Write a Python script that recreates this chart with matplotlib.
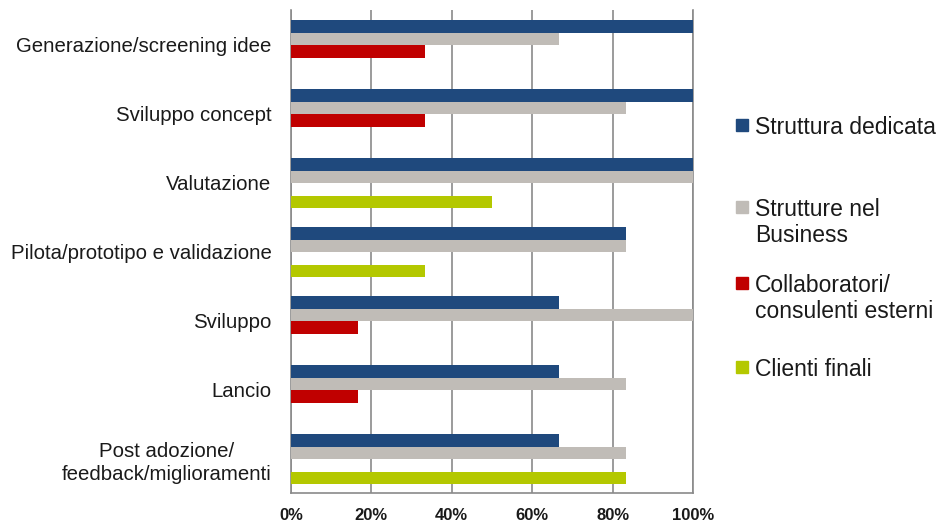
import numpy as np
import matplotlib
matplotlib.use("Agg")
from matplotlib import pyplot as plt
from matplotlib.patches import Rectangle

plt.rcParams['font.family'] = ['Liberation Sans', 'DejaVu Sans']

phases = [
    "Generazione/screening idee",
    "Sviluppo concept",
    "Valutazione",
    "Pilota/prototipo e validazione",
    "Sviluppo",
    "Lancio",
    "Post adozione/\nfeedback/miglioramenti",
]
series_names = [
    "Struttura dedicata",
    "Strutture nel\nBusiness",
    "Collaboratori/\nconsulenti esterni",
    "Clienti finali",
]
struttura_dedicata = [100, 100, 100, 83.3, 66.7, 66.7, 66.7]
strutture_business = [66.7, 83.3, 100, 83.3, 100, 83.3, 83.3]
collaboratori = [33.3, 33.3, 0, 0, 16.7, 16.7, 0]
clienti_finali = [0, 0, 50, 33.3, 0, 0, 83.3]
x_ticks = [0, 20, 40, 60, 80, 100]

colors = ["#1F497D", "#C0BCB7", "#C00000", "#B4C800"]
text_color = "#1a1a1a"
grid_color = "#8a8a8a"

fig = plt.figure(figsize=(9.41, 5.26), dpi=100)
ax = fig.add_axes([291 / 941, 1 - 493 / 526, 402 / 941, 483 / 526])

y = np.arange(len(phases))
h = 0.18
all_series = [struttura_dedicata, strutture_business, collaboratori, clienti_finali]
for i, (vals, c) in enumerate(zip(all_series, colors)):
    ax.barh(y + (i - 1.45) * h, vals, height=h, color=c, zorder=3)

ax.set_xlim(0, 100)
ax.set_ylim(len(phases) - 0.5, -0.5)
ax.set_xticks(x_ticks, [f"{t}%" for t in x_ticks])
ax.set_yticks(y, phases)
ax.tick_params(axis='y', length=0, pad=14, labelsize=14.7, labelcolor=text_color)
ax.tick_params(axis='x', length=0, pad=11, labelsize=12, labelcolor=text_color)
for lbl in ax.get_yticklabels():
    lbl.set_multialignment('center')
    lbl.set_linespacing(1.3)
for lbl in ax.get_xticklabels():
    lbl.set_fontweight('bold')

ax.grid(axis='x', color=grid_color, linewidth=1.2, zorder=0)
ax.set_axisbelow(True)
for side in ['left', 'bottom', 'right']:
    ax.spines[side].set_color(grid_color)
    ax.spines[side].set_linewidth(1.2)
ax.spines['top'].set_visible(False)

# legend drawn by hand so the swatch sits beside the first line of each label
legend_y = [125, 207, 283, 367]
for name, c, ly in zip(series_names, colors, legend_y):
    fig.add_artist(Rectangle((736 / 941, 1 - (ly + 6) / 526), 12 / 941, 12 / 526,
                             transform=fig.transFigure, color=c))
    fig.text(755 / 941, 1 - (ly - 8.5) / 526, name, ha='left', va='top',
             fontsize=16.5, color=text_color, linespacing=1.15)

fig.savefig("out.png", dpi=100)
